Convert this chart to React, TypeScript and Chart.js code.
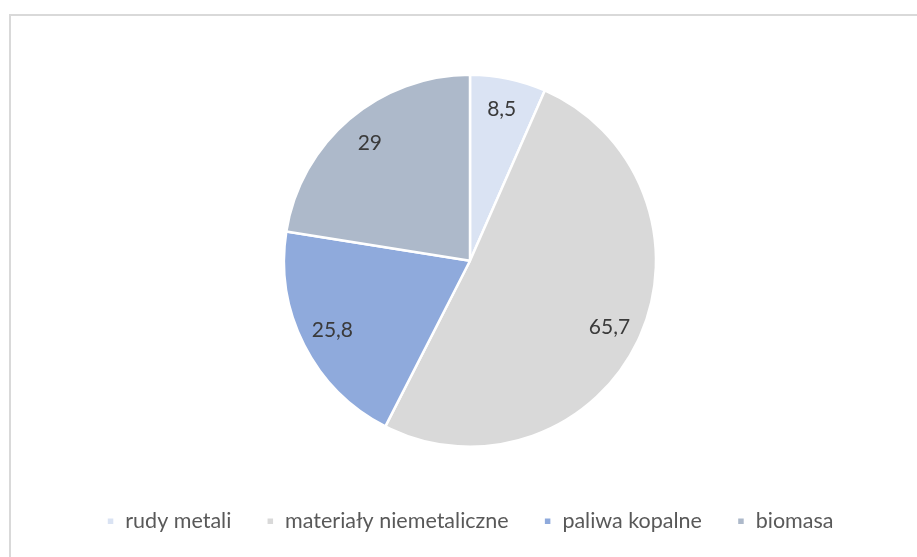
import React, { useEffect, useRef } from "react";
import { Chart, registerables } from "chart.js";

Chart.register(...registerables);

const categories = ["rudy metali", "materiały niemetaliczne", "paliwa kopalne", "biomasa"];
const values = [8.5, 65.7, 25.8, 29];
const colors = ["#dae3f3", "#d9d9d9", "#8faadc", "#adb9ca"];

const FONT = "Lato, 'Open Sans', sans-serif";

const labelPlugin = {
  id: "sliceLabels",
  afterDatasetsDraw(chart: any) {
    const ctx = chart.ctx;
    const meta = chart.getDatasetMeta(0);
    const data = chart.data.datasets[0].data as number[];
    ctx.save();
    ctx.font = `21px ${FONT}`;
    ctx.fillStyle = "#3a3a3a";
    ctx.textAlign = "center";
    ctx.textBaseline = "middle";
    meta.data.forEach((arc: any, i: number) => {
      const p = arc.getProps(["x", "y", "startAngle", "endAngle", "outerRadius"], true);
      const mid = (p.startAngle + p.endAngle) / 2;
      const r = p.outerRadius * 0.83;
      const x = p.x + Math.cos(mid) * r;
      const y = p.y + Math.sin(mid) * r;
      ctx.fillText(String(data[i]).replace(".", ","), x, y);
    });
    ctx.restore();
  },
};

export default function App() {
  const ref = useRef<HTMLCanvasElement | null>(null);
  useEffect(() => {
    if (!ref.current) return;
    const chart = new Chart(ref.current, {
      type: "pie",
      data: {
        labels: categories,
        datasets: [
          {
            data: values,
            backgroundColor: colors,
            borderColor: "#ffffff",
            borderWidth: 2.5,
            radius: 186,
          } as any,
        ],
      },
      options: {
        animation: false,
        responsive: false,
        maintainAspectRatio: false,
        layout: { padding: { top: 46, bottom: 15, left: 23, right: 0 } },
        plugins: {
          tooltip: { enabled: false },
          legend: {
            display: true,
            position: "bottom",
            labels: {
              boxWidth: 8,
              boxHeight: 8,
              padding: 35,
              color: "#595959",
              font: { family: FONT, size: 21.5 },
            },
          },
        },
      },
      plugins: [labelPlugin],
    });
    return () => chart.destroy();
  }, []);
  return (
    <div style={{ position: "absolute", left: 0, top: 0, width: 917, height: 557, overflow: "hidden", background: "#fff" }}>
      <div
        style={{
          position: "absolute",
          left: 9,
          top: 14,
          width: 940,
          height: 580,
          border: "2px solid #d9d9d9",
          boxSizing: "border-box",
        }}
      />
      <canvas ref={ref} width={917} height={557} style={{ position: "absolute", left: 0, top: 0 }} />
    </div>
  );
}
